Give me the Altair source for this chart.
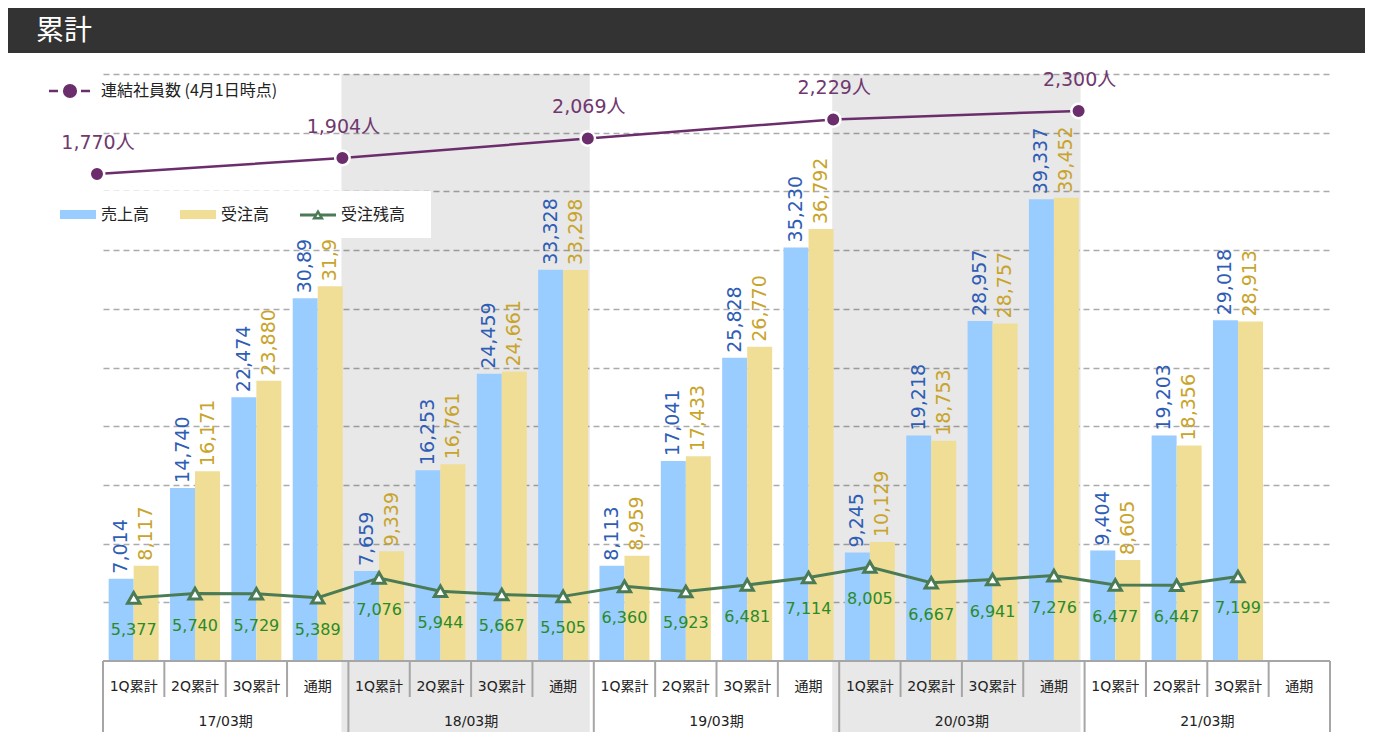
import altair as alt
import pandas as pd

# ---------------- data ----------------
title_text = '累計'
periods = ['17/03期', '18/03期', '19/03期', '20/03期', '21/03期']
quarters = ['1Q累計', '2Q累計', '3Q累計', '通期']
series_names = ['売上高', '受注高']
backlog_name = '受注残高'
employee_name = '連結社員数 (4月1日時点)'
shaded_periods = ['18/03期', '20/03期']

sales = [7014, 14740, 22474, 30891,
         7659, 16253, 24459, 33328,
         8113, 17041, 25828, 35230,
         9245, 19218, 28957, 39337,
         9404, 19203, 29018, None]
orders = [8117, 16171, 23880, 31915,
          9339, 16761, 24661, 33298,
          8959, 17433, 26770, 36792,
          10129, 18753, 28757, 39452,
          8605, 18356, 28913, None]
backlog = [5377, 5740, 5729, 5389,
           7076, 5944, 5667, 5505,
           6360, 5923, 6481, 7114,
           8005, 6667, 6941, 7276,
           6477, 6447, 7199, None]
employees = [1770, 1904, 2069, 2229, 2300]
grid_values = [5000, 10000, 15000, 20000, 25000, 30000, 35000, 40000, 45000, 50000]

# ---------------- styles ----------------
W, H = 1227, 587
FONT_NUM = 'DejaVu Sans, Noto Sans CJK JP'
FONT_JP = 'Noto Sans CJK JP, DejaVu Sans'
BAR_COLORS = ['#99CCFF', '#F0DE96']
LABEL_COLORS = ['#2E5DB5', '#C9A42B']
GREEN = '#4A7B55'
GREEN_TXT = '#2A8A2A'
PURPLE = '#6B2D6B'
PURPLE_TXT = '#70386F'
AXIS_GRAY = '#A6A6A6'

# ---------------- tables ----------------
cats = [f'{p}|{q}' for p in periods for q in quarters]
bar_rows, bl_rows, cat_rows = [], [], []
for i, c in enumerate(cats):
    cat_rows.append({'cat': c, 'quarter': quarters[i % 4], 'pos': i + 0.5})
    for s, arr in zip(series_names, [sales, orders]):
        if arr[i] is not None:
            bar_rows.append({'cat': c, 'series': s, 'value': arr[i]})
    if backlog[i] is not None:
        bl_rows.append({'cat': c, 'backlog': backlog[i]})
bar_df = pd.DataFrame(bar_rows)
bl_df = pd.DataFrame(bl_rows)
cat_df = pd.DataFrame(cat_rows)
year_df = pd.DataFrame({'period': periods, 'mid': [4 * i + 2 for i in range(len(periods))]})
qdiv_df = pd.DataFrame({'b': [b for b in range(1, 20) if b % 4 != 0]})
ydiv_df = pd.DataFrame({'b': list(range(0, 21, 4))})
shade_df = pd.DataFrame({'start': [periods.index(p) * 4 for p in shaded_periods]})
shade_df['end'] = shade_df['start'] + 4
emp_df = pd.DataFrame({'period': periods, 'emp': employees,
                       'pos': [4 * i for i in range(len(periods))]})
one = pd.DataFrame({'k': [0]})


def xq(field):
    return alt.X(f'{field}:Q', scale=alt.Scale(domain=[0, 20], nice=False, zero=False), axis=None)


xb = alt.X('cat:N', scale=alt.Scale(domain=cats, paddingInner=0.185, paddingOuter=0.0925), axis=None)
xo = alt.XOffset('series:N', scale=alt.Scale(domain=series_names, paddingInner=0, paddingOuter=0))
yaxis = alt.Axis(values=grid_values, grid=True, gridDash=[6, 4], gridColor='#ABABAB', gridWidth=1.3,
                 labels=False, ticks=False, domain=False, title=None)


def yq(field):
    return alt.Y(f'{field}:Q', scale=alt.Scale(domain=[0, 50000], nice=False, zero=True), axis=yaxis)


# ---------------- shaded fiscal years ----------------
shade = alt.Chart(shade_df).mark_rect(color='#000000', opacity=0.09, xOffset=-7, x2Offset=-4).encode(
    x=xq('start'), x2='end:Q', y=alt.value(0), y2=alt.value(H + 90))

# ---------------- bars / backlog ----------------
bars = alt.Chart(bar_df).mark_bar().encode(
    x=xb, xOffset=xo, y=yq('value'),
    color=alt.Color('series:N', scale=alt.Scale(domain=series_names, range=BAR_COLORS), legend=None))
bar_labels = alt.Chart(bar_df).mark_text(angle=270, align='left', baseline='middle', dx=5,
                                         fontSize=19, font=FONT_NUM).encode(
    x=xb, xOffset=xo, y=yq('value'), text=alt.Text('value:Q', format=','),
    color=alt.Color('series:N', scale=alt.Scale(domain=series_names, range=LABEL_COLORS), legend=None))
bl_line = alt.Chart(bl_df).mark_line(color=GREEN, strokeWidth=3).encode(x=xb, y=yq('backlog'))
bl_pts = alt.Chart(bl_df).mark_point(shape='triangle-up', filled=True, fill='white', stroke=GREEN,
                                     strokeWidth=3, size=150, opacity=1).encode(x=xb, y=yq('backlog'))
bl_txt = alt.Chart(bl_df).mark_text(dy=32, fontSize=16, font=FONT_NUM, color=GREEN_TXT).encode(
    x=xb, y=yq('backlog'), text=alt.Text('backlog:Q', format=','))
main = alt.layer(bars, bar_labels, bl_line, bl_pts, bl_txt).resolve_scale(color='independent')

# ---------------- two-level category axis ----------------
axis_line = alt.Chart(pd.DataFrame({'a': [0], 'b': [20]})).mark_rule(color=AXIS_GRAY, strokeWidth=2).encode(
    x=xq('a'), x2='b:Q', y=alt.value(H))
qdiv = alt.Chart(qdiv_df).mark_rule(color=AXIS_GRAY, strokeWidth=2).encode(
    x=xq('b'), y=alt.value(H), y2=alt.value(H + 36))
ydiv = alt.Chart(ydiv_df).mark_rule(color=AXIS_GRAY, strokeWidth=2).encode(
    x=xq('b'), y=alt.value(H), y2=alt.value(H + 72))
cat_txt = alt.Chart(cat_df).mark_text(fontSize=14, font=FONT_NUM, color='#222222', baseline='middle').encode(
    x=xq('pos'), y=alt.value(H + 26), text='quarter:N')
year_txt = alt.Chart(year_df).mark_text(fontSize=14, font=FONT_NUM, color='#222222', baseline='middle').encode(
    x=xq('mid'), y=alt.value(H + 61), text='period:N')
deco = alt.layer(axis_line, qdiv, ydiv, cat_txt, year_txt)

# ---------------- employees ----------------
emp_y = alt.Y('emp:Q', scale=alt.Scale(domain=[-2327, 2611], nice=False, zero=False), axis=None)
emp_line = alt.Chart(emp_df).mark_line(color=PURPLE, strokeWidth=2.5, xOffset=-6).encode(x=xq('pos'), y=emp_y)
emp_pts = alt.Chart(emp_df).mark_point(shape='circle', filled=True, fill=PURPLE, stroke='white',
                                       strokeWidth=2.5, size=210, opacity=1, xOffset=-6).encode(
    x=xq('pos'), y=emp_y)
emp_txt = alt.Chart(emp_df).transform_calculate(
    label="format(datum.emp, ',') + '人'").mark_text(
    dy=-31, fontSize=19, font=FONT_NUM, color=PURPLE_TXT, xOffset=-5).encode(
    x=xq('pos'), y=emp_y, text='label:N')
emp = alt.layer(emp_line, emp_pts, emp_txt)

# ---------------- legends ----------------
lg_box = alt.Chart(one).mark_rect(fill='white').encode(
    x=alt.value(-53), x2=alt.value(328), y=alt.value(117), y2=alt.value(164))
lg_sw1 = alt.Chart(one).mark_rect(fill=BAR_COLORS[0]).encode(
    x=alt.value(-43), x2=alt.value(-7), y=alt.value(136), y2=alt.value(145))
lg_sw2 = alt.Chart(one).mark_rect(fill=BAR_COLORS[1]).encode(
    x=alt.value(77), x2=alt.value(113), y=alt.value(136), y2=alt.value(145))
lg_gl = alt.Chart(one).mark_rule(color=GREEN, strokeWidth=3).encode(
    x=alt.value(197), x2=alt.value(233), y=alt.value(141))
lg_gp = alt.Chart(one).mark_point(shape='triangle-up', filled=True, fill='white', stroke=GREEN,
                                  strokeWidth=2.5, size=60, opacity=1).encode(x=alt.value(215), y=alt.value(141))
lg_t1 = alt.Chart(one).mark_text(text=series_names[0], align='left', baseline='middle', fontSize=16,
                                 font=FONT_JP, color='#222222').encode(x=alt.value(-2), y=alt.value(141))
lg_t2 = alt.Chart(one).mark_text(text=series_names[1], align='left', baseline='middle', fontSize=16,
                                 font=FONT_JP, color='#222222').encode(x=alt.value(118), y=alt.value(141))
lg_t3 = alt.Chart(one).mark_text(text=backlog_name, align='left', baseline='middle', fontSize=16,
                                 font=FONT_JP, color='#222222').encode(x=alt.value(238), y=alt.value(141))
lg_el1 = alt.Chart(one).mark_rule(color=PURPLE, strokeWidth=2.5).encode(
    x=alt.value(-54), x2=alt.value(-45), y=alt.value(17))
lg_el2 = alt.Chart(one).mark_rule(color=PURPLE, strokeWidth=2.5).encode(
    x=alt.value(-22), x2=alt.value(-13), y=alt.value(17))
lg_ep = alt.Chart(one).mark_point(shape='circle', filled=True, fill=PURPLE, size=200, opacity=1).encode(
    x=alt.value(-33), y=alt.value(17))
lg_et = alt.Chart(one).mark_text(text=employee_name, align='left', baseline='middle', fontSize=16,
                                 font=FONT_JP, color='#222222').encode(x=alt.value(-2), y=alt.value(17))
legend = alt.layer(lg_box, lg_sw1, lg_sw2, lg_gl, lg_gp, lg_t1, lg_t2, lg_t3, lg_el1, lg_el2, lg_ep, lg_et)

# ---------------- title bar ----------------
tb = alt.Chart(one).mark_rect(fill='#333333').encode(
    x=alt.value(-95), x2=alt.value(1262), y=alt.value(-66), y2=alt.value(-21))
tt = alt.Chart(one).mark_text(text=title_text, align='left', baseline='alphabetic', fontSize=28,
                              font=FONT_JP, color='white').encode(x=alt.value(-67), y=alt.value(-34))
title = alt.layer(tb, tt)

chart = alt.layer(shade, main, deco, emp, legend, title).resolve_scale(
    x='independent', y='independent'
).properties(
    width=W, height=H,
    autosize=alt.AutoSizeParams(type='none'),
    padding={'left': 95, 'top': 66, 'right': 35, 'bottom': 71},
    background='white'
).configure_view(stroke=None)

chart.save('out.html', embed_options={'renderer': 'svg', 'actions': False})
